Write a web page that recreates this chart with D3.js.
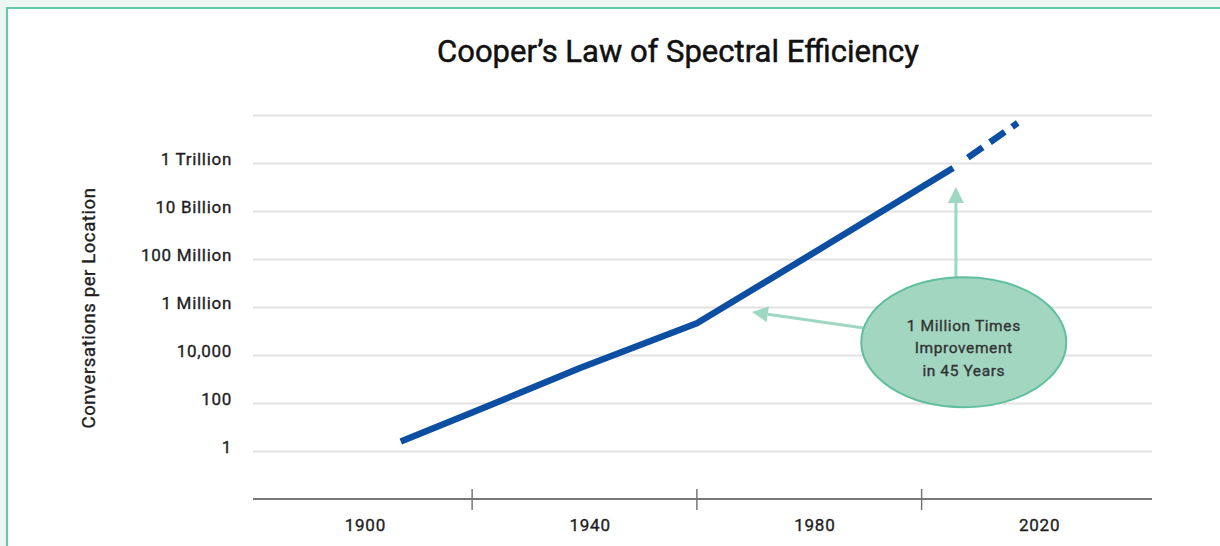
<!DOCTYPE html>
<html>
<head>
<meta charset="utf-8">
<script src="https://cdn.jsdelivr.net/npm/d3@7"></script>
<style>
  html, body { margin: 0; padding: 0; background: #ecf6f2; }
  .canvas { width: 1220px; height: 546px; overflow: hidden; }
  text { font-family: Roboto, "Noto Sans", sans-serif; fill: #1e1e1e; stroke: #1e1e1e; stroke-width: 0.35px; }
</style>
</head>
<body>
<div class="canvas"></div>
<script>
// axis labels
const xLabelYears = [1900, 1940, 1980, 2020];
const xTickMarkYears = [1919, 1959, 1999];
const yTickValues = [1, 1e2, 1e4, 1e6, 1e8, 1e10, 1e12];
const yTickLabels = ['1', '100', '10,000', '1 Million', '100 Million', '10 Billion', '1 Trillion'];
const gridValues = [1, 1e2, 1e4, 1e6, 1e8, 1e10, 1e12, 1e14];

// measured trend (solid) and projection (dashed)
const solidYears = [1906.3, 1919, 1938.2, 1959, 1982, 2004.6];
const solidValues = [2.6, 42, 3000, 2.2e5, 3.9e8, 6.5e11];
const projYears = [2004.6, 2016.1];
const projValues = [6.5e11, 4.9e13];

// annotation
const noteLines = ['1 Million Times', 'Improvement', 'in 45 Years'];
const noteCenter = [2006.5, 3.6e4];
const noteTargets = [[1968.8, 6.5e5], [2005.1, 1.05e11]];

const svg = d3.select('.canvas')
    .append('svg')
    .attr('width', 1220)
    .attr('height', 546);

// white panel with teal frame
svg.append('rect')
    .attr('x', 7).attr('y', 8)
    .attr('width', 1240).attr('height', 560)
    .attr('fill', '#fff')
    .attr('stroke', '#62c9aa')
    .attr('stroke-width', 2);

const x = d3.scaleLinear()
    .domain([1880, 2040])
    .range([253, 1152]);

const y = d3.scaleLog()
    .domain([0.01, 1e14])
    .range([499.5, 115.5]);

// gridlines
svg.append('g')
    .selectAll('line')
    .data(gridValues)
    .enter()
    .append('line')
    .attr('x1', x.range()[0])
    .attr('x2', x.range()[1])
    .attr('y1', d => y(d))
    .attr('y2', d => y(d))
    .attr('stroke', '#e2e2e2')
    .attr('stroke-width', 2);

// y labels
svg.append('g')
    .selectAll('text')
    .data(yTickValues)
    .enter()
    .append('text')
    .attr('x', 232)
    .attr('y', d => y(d) - 4)
    .attr('dy', '0.35em')
    .attr('text-anchor', 'end')
    .attr('font-size', 17)
    .attr('letter-spacing', 0.7)
    .text((d, i) => yTickLabels[i]);

svg.append('text')
    .attr('transform', 'translate(95,308) rotate(-90)')
    .attr('text-anchor', 'middle')
    .attr('font-size', 18.5)
    .attr('letter-spacing', 0.6)
    .text('Conversations per Location');

// x axis
const xAxis = svg.append('g');
xAxis.append('line')
    .attr('x1', x.range()[0])
    .attr('x2', x.range()[1])
    .attr('y1', 499)
    .attr('y2', 499)
    .attr('stroke', '#777')
    .attr('stroke-width', 2);

xAxis.selectAll('.tickmark')
    .data(xTickMarkYears)
    .enter()
    .append('line')
    .attr('class', 'tickmark')
    .attr('x1', d => x(d))
    .attr('x2', d => x(d))
    .attr('y1', 489)
    .attr('y2', 510)
    .attr('stroke', '#777')
    .attr('stroke-width', 1.5);

xAxis.selectAll('.ticklabel')
    .data(xLabelYears)
    .enter()
    .append('text')
    .attr('class', 'ticklabel')
    .attr('x', d => x(d))
    .attr('y', 525)
    .attr('dy', '0.35em')
    .attr('text-anchor', 'middle')
    .attr('font-size', 17)
    .attr('letter-spacing', 0.8)
    .text(d => d);

// trend line
const line = d3.line()
    .x(d => x(d[0]))
    .y(d => y(d[1]));

svg.append('path')
    .datum(solidYears.map((yr, i) => [yr, solidValues[i]]))
    .attr('d', line)
    .attr('fill', 'none')
    .attr('stroke', '#0b4ea2')
    .attr('stroke-width', 6.5)
    .attr('stroke-linejoin', 'round');

svg.append('path')
    .datum(projYears.map((yr, i) => [yr, projValues[i]]))
    .attr('d', line)
    .attr('fill', 'none')
    .attr('stroke', '#0b4ea2')
    .attr('stroke-width', 6.5)
    .attr('stroke-dasharray', '0,18,18,9,18,9,18');

// annotation arrows + ellipse
const cx = x(noteCenter[0]), cy = y(noteCenter[1]);
const rx = 102.5, ry = 65;
const arrowColor = '#9fd8c2';

noteTargets.forEach(t => {
    const tx = x(t[0]), ty = y(t[1]);
    let sx, sy;
    if (Math.abs(tx - cx) < rx && Math.abs(ty - cy) > ry) {
        // straight up/down from the ellipse edge
        sx = tx;
        sy = cy + Math.sign(ty - cy) * ry * Math.sqrt(1 - ((tx - cx) / rx) ** 2);
    } else {
        const dx = tx - cx, dy = ty - cy;
        const k = 1 / Math.sqrt((dx / rx) ** 2 + (dy / ry) ** 2);
        sx = cx + dx * k; sy = cy + dy * k;
    }
    const len = Math.hypot(tx - sx, ty - sy);
    const ux = (tx - sx) / len, uy = (ty - sy) / len;
    const head = 16, half = 8;
    const bx = tx - ux * head, by = ty - uy * head;
    svg.append('line')
        .attr('x1', sx).attr('y1', sy)
        .attr('x2', bx).attr('y2', by)
        .attr('stroke', arrowColor)
        .attr('stroke-width', 3);
    svg.append('polygon')
        .attr('points', [[tx, ty], [bx - uy * half, by + ux * half], [bx + uy * half, by - ux * half]].map(p => p.join(',')).join(' '))
        .attr('fill', arrowColor);
});

svg.append('ellipse')
    .attr('cx', cx).attr('cy', cy)
    .attr('rx', rx).attr('ry', ry)
    .attr('fill', '#a2d6c1')
    .attr('stroke', '#5fbf9f')
    .attr('stroke-width', 2);

svg.append('g')
    .selectAll('text')
    .data(noteLines)
    .enter()
    .append('text')
    .attr('x', cx)
    .attr('y', (d, i) => cy - 17 + i * 22.5)
    .attr('dy', '0.35em')
    .attr('text-anchor', 'middle')
    .attr('font-size', 15.5)
    .attr('letter-spacing', 0.6)
    .style('fill', '#333')
    .style('stroke', '#333')
    .text(d => d);

// title
svg.append('text')
    .attr('x', 678)
    .attr('y', 51)
    .attr('dy', '0.35em')
    .attr('text-anchor', 'middle')
    .attr('font-size', 31)
    .style('fill', '#111')
    .style('stroke', '#111')
    .style('stroke-width', '0.5px')
    .text('Cooper\u2019s Law of Spectral Efficiency');
</script>
</body>
</html>
